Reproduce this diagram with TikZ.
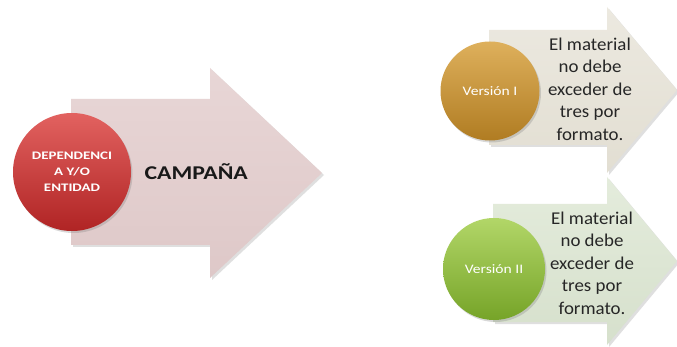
\documentclass[tikz,border=0pt]{standalone}
\usepackage{fontspec}
\setmainfont{Carlito}
\newfontfamily\descfont[FakeStretch=1.05]{Carlito}
\newfontfamily\titlefont[FakeStretch=1.22]{Carlito}
\newfontfamily\ballfont[FakeStretch=1.3]{Carlito}
\newfontfamily\verfont[FakeStretch=1.2]{Carlito}
\usetikzlibrary{shadows,shadings}
\definecolor{bigarrow}{RGB}{222,200,200}
\definecolor{bigarrowlight}{RGB}{232,214,214}
\definecolor{toparrow}{RGB}{226,222,210}
\definecolor{toparrowlight}{RGB}{236,233,224}
\definecolor{botarrow}{RGB}{214,224,204}
\definecolor{botarrowlight}{RGB}{228,236,220}
\definecolor{redtop}{RGB}{226,98,96}
\definecolor{redbot}{RGB}{176,36,36}
\definecolor{goldtop}{RGB}{222,176,92}
\definecolor{goldbot}{RGB}{176,124,34}
\definecolor{greentop}{RGB}{178,214,104}
\definecolor{greenbot}{RGB}{118,164,40}
\tikzset{
  arrowshape/.style={drop shadow={opacity=0.25,shadow xshift=2pt,shadow yshift=-2pt}},
  ball/.style={circle, minimum size=#1, inner sep=0pt,
    drop shadow={opacity=0.3,shadow xshift=1.5pt,shadow yshift=-2pt}},
  balltext/.style={text=white, align=center},
  desc/.style={align=center, font=\descfont\fontsize{18}{22.5}\selectfont, text=black!85}
}
\begin{document}
\begin{tikzpicture}[x=1pt,y=-1pt]
\useasboundingbox (0,0) rectangle (677,347);
\fill[white] (0,0) rectangle (677,347);

% main arrow
\shade[arrowshape, top color=bigarrowlight, bottom color=bigarrow]
  (71,99) -- (210,99) -- (210,68) -- (322,173) -- (210,278) -- (210,245) -- (71,245) -- cycle;
% upper arrow
\shade[arrowshape, top color=toparrowlight, bottom color=toparrow]
  (489,30) -- (607,30) -- (607,7) -- (677,90) -- (607,173) -- (607,145) -- (489,145) -- cycle;
% lower arrow
\shade[arrowshape, top color=botarrowlight, bottom color=botarrow]
  (493,204) -- (607,204) -- (607,177) -- (677,261) -- (607,345) -- (607,322) -- (493,322) -- cycle;

% circles
\node[ball=118pt, top color=redtop, bottom color=redbot, balltext,
      font=\ballfont\bfseries\fontsize{11.5}{16}\selectfont] (dep) at (72,172)
  {DEPENDENCI\\A Y/O\\ENTIDAD};
\node[ball=99pt, top color=goldtop, bottom color=goldbot, balltext,
      font=\verfont\fontsize{13}{15}\selectfont] (v1) at (490,91) {Versión I};
\node[ball=102pt, top color=greentop, bottom color=greenbot, balltext,
      font=\verfont\fontsize{13}{15}\selectfont] (v2) at (494,269) {Versión II};

% texts
\node[font=\titlefont\bfseries\fontsize{19.5}{24}\selectfont, text=black!90, anchor=west] (camp) at (141,172) {CAMPAÑA};
\node[desc] (d1) at (590,89) {El material\\no debe\\exceder de\\tres por\\formato.};
\node[desc] (d2) at (592,263) {El material\\no debe\\exceder de\\tres por\\formato.};
\end{tikzpicture}
\end{document}
